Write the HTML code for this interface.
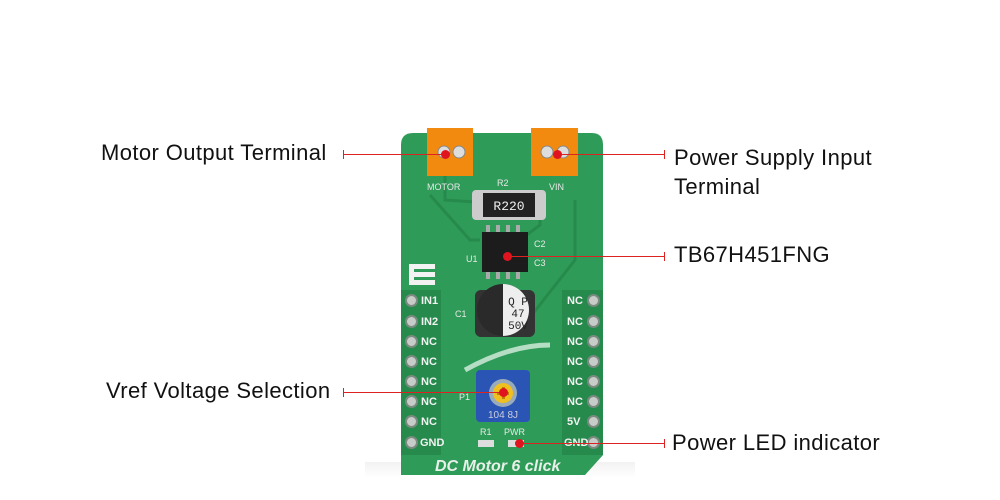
<!DOCTYPE html>
<html><head><style>
body{margin:0;width:1000px;height:500px;background:#fff;position:relative;overflow:hidden;font-family:"Liberation Sans",sans-serif}
.lbl{position:absolute;font-size:22px;letter-spacing:0.4px;color:#111}
.ln{position:absolute;height:1px;background:#d22}
.tk{position:absolute;width:1px;height:9px;background:#d22}
.dot{position:absolute;width:9px;height:9px;border-radius:50%;background:#e0141e}
.pin{position:absolute;width:13px;height:13px;border-radius:50%;background:#c8ccc8;border:2px solid #7a8a80;box-sizing:border-box}
.pt{position:absolute;font:bold 11px "Liberation Sans",sans-serif;color:#f2f2f2}
</style></head><body>
<div style="position:absolute;left:365px;top:462px;width:270px;height:16px;background:linear-gradient(#f2f2f2,#fff)"></div>
<svg style="position:absolute;left:0;top:0" width="1000" height="500">
<path d="M413 133 H592 Q603 133 603 145 V455 L585 475 H401 V145 Q401 133 413 133Z" fill="#2f9b58"/>
<path d="M430 195 L470 240 L480 240 M540 200 V225 L520 240 M575 200 V260 L520 330 M445 175 V200 L520 205" stroke="#268a4c" stroke-width="3" fill="none"/>
<path d="M465 370 Q510 345 550 345" stroke="#d8efe0" stroke-width="5" fill="none" opacity=".8"/>
<rect x="401" y="290" width="40" height="165" fill="#268a4c"/>
<rect x="562" y="290" width="41" height="165" fill="#268a4c"/>
<rect x="427" y="128" width="46" height="48" fill="#f28a10"/>
<rect x="531" y="128" width="47" height="48" fill="#f28a10"/>
<circle cx="444" cy="152" r="6" fill="#ddd" stroke="#888"/><circle cx="459" cy="152" r="6" fill="#ddd" stroke="#888"/>
<circle cx="547" cy="152" r="6" fill="#ddd" stroke="#888"/><circle cx="563" cy="152" r="6" fill="#ddd" stroke="#888"/>
<rect x="472" y="190" width="74" height="30" rx="4" fill="#ccc"/>
<rect x="483" y="193" width="52" height="24" fill="#222"/>
<text x="509" y="210" font-size="13" fill="#eee" text-anchor="middle" font-family="Liberation Mono">R220</text>
<rect x="482" y="232" width="46" height="40" fill="#1c1c1c"/>
<g fill="#aaa"><rect x="486" y="225" width="4" height="7"/><rect x="496" y="225" width="4" height="7"/><rect x="506" y="225" width="4" height="7"/><rect x="516" y="225" width="4" height="7"/>
<rect x="486" y="272" width="4" height="7"/><rect x="496" y="272" width="4" height="7"/><rect x="506" y="272" width="4" height="7"/><rect x="516" y="272" width="4" height="7"/></g>
<rect x="475" y="290" width="60" height="47" rx="6" fill="#333"/>
<circle cx="503" cy="310" r="26" fill="#2a2a2a"/>
<path d="M503 284 A26 26 0 0 1 503 336Z" fill="#eee"/>
<text x="518" y="305" font-size="11" fill="#222" text-anchor="middle" font-family="Liberation Mono">Q P</text>
<text x="518" y="317" font-size="11" fill="#222" text-anchor="middle" font-family="Liberation Mono">47</text>
<text x="518" y="329" font-size="11" fill="#222" text-anchor="middle" font-family="Liberation Mono">50V</text>
<rect x="476" y="370" width="54" height="52" rx="4" fill="#2a55b5"/>
<circle cx="503" cy="393" r="14" fill="#9ab"/><circle cx="503" cy="393" r="10" fill="#f0c020"/>
<rect x="497" y="392" width="12" height="3" fill="#c08000"/><rect x="502" y="387" width="3" height="12" fill="#c08000"/>
<text x="503" y="418" font-size="10" fill="#ccd" text-anchor="middle">104 8J</text>
<rect x="478" y="440" width="16" height="7" fill="#ddd"/><rect x="508" y="440" width="16" height="7" fill="#ddd"/>
<g fill="#f2f2f2"><rect x="409" y="264" width="26" height="5"/><rect x="409" y="272" width="26" height="5"/><rect x="409" y="280" width="26" height="5"/><rect x="409" y="264" width="5" height="21"/></g>
<g font-size="9" fill="#e8e8e8"><text x="427" y="190">MOTOR</text><text x="549" y="190">VIN</text><text x="497" y="186">R2</text><text x="466" y="262">U1</text><text x="534" y="247">C2</text><text x="534" y="266">C3</text><text x="455" y="317">C1</text><text x="459" y="400">P1</text><text x="480" y="435">R1</text><text x="504" y="435">PWR</text></g>
<text x="435" y="471" font-size="16" font-weight="bold" fill="#e8f0ea" font-style="italic">DC Motor 6 click</text>
</svg>
<div class="pin" style="left:405px;top:294px"></div><div class="pt" style="left:421px;top:295px">IN1</div>
<div class="pin" style="left:405px;top:315px"></div><div class="pt" style="left:421px;top:316px">IN2</div>
<div class="pin" style="left:405px;top:335px"></div><div class="pt" style="left:421px;top:336px">NC</div>
<div class="pin" style="left:405px;top:355px"></div><div class="pt" style="left:421px;top:356px">NC</div>
<div class="pin" style="left:405px;top:375px"></div><div class="pt" style="left:421px;top:376px">NC</div>
<div class="pin" style="left:405px;top:395px"></div><div class="pt" style="left:421px;top:396px">NC</div>
<div class="pin" style="left:405px;top:415px"></div><div class="pt" style="left:421px;top:416px">NC</div>
<div class="pin" style="left:405px;top:436px"></div><div class="pt" style="left:420px;top:437px">GND</div>
<div class="pin" style="left:587px;top:294px"></div><div class="pt" style="left:567px;top:295px">NC</div>
<div class="pin" style="left:587px;top:315px"></div><div class="pt" style="left:567px;top:316px">NC</div>
<div class="pin" style="left:587px;top:335px"></div><div class="pt" style="left:567px;top:336px">NC</div>
<div class="pin" style="left:587px;top:355px"></div><div class="pt" style="left:567px;top:356px">NC</div>
<div class="pin" style="left:587px;top:375px"></div><div class="pt" style="left:567px;top:376px">NC</div>
<div class="pin" style="left:587px;top:395px"></div><div class="pt" style="left:567px;top:396px">NC</div>
<div class="pin" style="left:587px;top:415px"></div><div class="pt" style="left:567px;top:416px">5V</div>
<div class="pin" style="left:587px;top:436px"></div><div class="pt" style="left:564px;top:437px">GND</div>

<div class="lbl" style="left:101px;top:140px">Motor Output Terminal</div>
<div class="ln" style="left:343px;top:154px;width:102px"></div><div class="tk" style="left:343px;top:150px"></div><div class="dot" style="left:441px;top:150px"></div>
<div class="lbl" style="left:674px;top:143px;line-height:29px">Power Supply Input<br>Terminal</div>
<div class="ln" style="left:558px;top:154px;width:107px"></div><div class="tk" style="left:664px;top:150px"></div><div class="dot" style="left:553px;top:150px"></div>
<div class="lbl" style="left:674px;top:242px">TB67H451FNG</div>
<div class="ln" style="left:508px;top:256px;width:157px"></div><div class="tk" style="left:664px;top:252px"></div><div class="dot" style="left:503px;top:252px"></div>
<div class="lbl" style="left:106px;top:378px">Vref Voltage Selection</div>
<div class="ln" style="left:343px;top:392px;width:160px"></div><div class="tk" style="left:343px;top:388px"></div><div class="dot" style="left:499px;top:388px"></div>
<div class="lbl" style="left:672px;top:430px">Power LED indicator</div>
<div class="ln" style="left:520px;top:443px;width:145px"></div><div class="tk" style="left:664px;top:439px"></div><div class="dot" style="left:515px;top:439px"></div>
</body></html>
